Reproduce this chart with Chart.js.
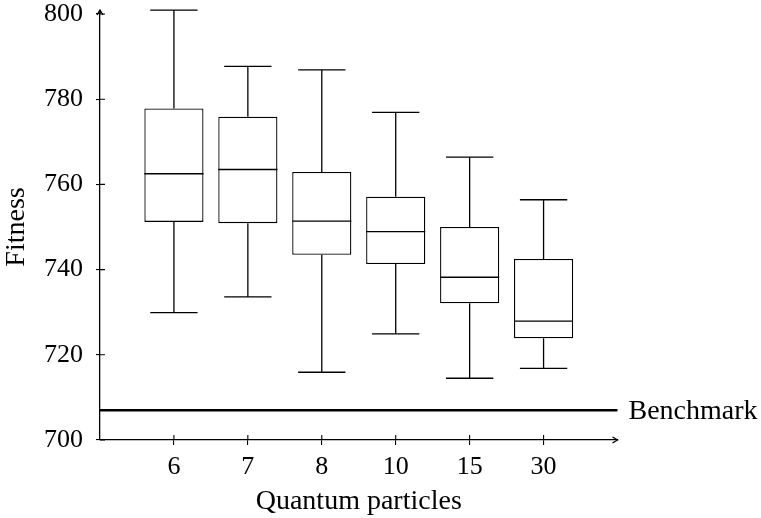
<!DOCTYPE html>
<html>
<head>
<meta charset="utf-8">
<script src="https://cdn.jsdelivr.net/npm/chart.js@4"></script>
<style>
  html, body { margin: 0; padding: 0; background: #fff; }
  #wrap { width: 761px; height: 518px; }
</style>
</head>
<body>
<div id="wrap"><canvas id="fitnessChart" width="761" height="518"></canvas></div>
<script>
// values
const categories = ['6', '7', '8', '10', '15', '30'];
const whiskerLow = [729.9, 733.6, 715.9, 724.9, 714.5, 716.8];
const lowerQuartile = [751.2, 750.9, 743.5, 741.3, 732.1, 723.9];
const medians = [762.5, 763.5, 751.4, 748.9, 738.2, 727.9];
const upperQuartile = [777.8, 775.9, 762.9, 757.1, 750.0, 742.5];
const whiskerHigh = [800.9, 787.7, 786.9, 776.9, 766.4, 756.4];
const benchmark = 707;
const benchmarkLabel = 'Benchmark';

Chart.defaults.font.family = "'Liberation Serif', 'Times New Roman', serif";
Chart.defaults.font.size = 26;
Chart.defaults.color = '#000';

const LINE = 1.3;

// whiskers, medians, axis arrows and the benchmark label
const boxExtras = {
    id: 'boxExtras',
    afterDatasetsDraw(chart) {
        const { ctx, scales: { x, y } } = chart;
        ctx.save();
        ctx.strokeStyle = '#000';
        ctx.lineWidth = LINE;
        categories.forEach((c, i) => {
            const cx = x.getPixelForValue(i);
            const halfBox = x.getPixelForValue(i + 0.4) - cx;
            const halfCap = x.getPixelForValue(i + 0.32) - cx;
            const yHi = y.getPixelForValue(whiskerHigh[i]);
            const yLo = y.getPixelForValue(whiskerLow[i]);
            const yQ3 = y.getPixelForValue(upperQuartile[i]);
            const yQ1 = y.getPixelForValue(lowerQuartile[i]);
            const yMed = y.getPixelForValue(medians[i]);
            ctx.beginPath();
            ctx.moveTo(cx, yQ3); ctx.lineTo(cx, yHi);
            ctx.moveTo(cx - halfCap, yHi); ctx.lineTo(cx + halfCap, yHi);
            ctx.moveTo(cx, yQ1); ctx.lineTo(cx, yLo);
            ctx.moveTo(cx - halfCap, yLo); ctx.lineTo(cx + halfCap, yLo);
            ctx.moveTo(cx - halfBox, yMed); ctx.lineTo(cx + halfBox, yMed);
            ctx.stroke();
        });
        ctx.restore();
    },
    afterDraw(chart) {
        const { ctx, chartArea: a, scales: { x, y } } = chart;
        ctx.save();
        ctx.strokeStyle = '#000';
        ctx.lineWidth = 1.1;
        // inner half of the tick marks
        ctx.beginPath();
        y.ticks.forEach(t => {
            const py = y.getPixelForValue(t.value);
            ctx.moveTo(a.left, py); ctx.lineTo(a.left + 5, py);
        });
        x.ticks.forEach(t => {
            const px = x.getPixelForValue(t.value);
            ctx.moveTo(px, a.bottom); ctx.lineTo(px, a.bottom - 5);
        });
        ctx.stroke();
        // arrow heads
        ctx.lineWidth = LINE;
        ctx.beginPath();
        ctx.moveTo(a.left, a.top); ctx.lineTo(a.left, a.top - 4);
        ctx.moveTo(a.left - 3, a.top + 1); ctx.lineTo(a.left, a.top - 4); ctx.lineTo(a.left + 3, a.top + 1);
        ctx.moveTo(a.right - 5, a.bottom - 3); ctx.lineTo(a.right, a.bottom); ctx.lineTo(a.right - 5, a.bottom + 3);
        ctx.stroke();
        // benchmark label
        ctx.fillStyle = '#000';
        ctx.font = "28px 'Liberation Serif', serif";
        ctx.textAlign = 'left';
        ctx.textBaseline = 'alphabetic';
        ctx.fillText(benchmarkLabel, a.right + 11, y.getPixelForValue(benchmark) + 9);
        ctx.restore();
    }
};

const ctx = document.getElementById('fitnessChart').getContext('2d');

new Chart(ctx, {
    data: {
        datasets: [{
            type: 'bar',
            data: categories.map((c, i) => ({ x: i, y: [lowerQuartile[i], upperQuartile[i]] })),
            backgroundColor: '#fff',
            borderColor: '#000',
            borderWidth: LINE,
            borderSkipped: false,
            categoryPercentage: 1,
            barPercentage: 0.8,
            clip: false
        }, {
            type: 'line',
            data: [{ x: -1, y: benchmark }, { x: categories.length, y: benchmark }],
            borderColor: '#000',
            borderWidth: 2.5,
            pointRadius: 0,
            clip: false
        }]
    },
    options: {
        responsive: false,
        animation: false,
        layout: { padding: { top: 14, right: 143.5, left: 0, bottom: 0 } },
        plugins: {
            legend: { display: false },
            tooltip: { enabled: false }
        },
        scales: {
            x: {
                type: 'linear',
                offset: false,
                min: -1,
                max: categories.length,
                afterBuildTicks: scale => {
                    scale.ticks = categories.map((c, i) => ({ value: i }));
                },
                afterFit: scale => {
                    scale.height = 78;
                    scale.paddingLeft = 0;
                    scale.paddingRight = 0;
                },
                ticks: {
                    padding: 7,
                    maxRotation: 0,
                    autoSkip: false,
                    callback: v => categories[v] ?? ''
                },
                grid: { offset: false, drawOnChartArea: false, tickLength: 5, color: '#000', lineWidth: 1.1 },
                border: { display: true, color: '#000', width: LINE },
                title: { display: true, text: 'Quantum particles', padding: 0, font: { size: 28 } }
            },
            y: {
                min: 700,
                max: 800,
                afterFit: scale => {
                    scale.width = 100;
                    scale.paddingTop = 0;
                    scale.paddingBottom = 0;
                },
                ticks: { stepSize: 20, padding: 13 },
                grid: { drawOnChartArea: false, tickLength: 4, color: '#000', lineWidth: 1.1 },
                border: { display: true, color: '#000', width: LINE },
                title: { display: true, text: 'Fitness', padding: 0, font: { size: 28 } }
            }
        }
    },
    plugins: [boxExtras]
});
</script>
</body>
</html>
